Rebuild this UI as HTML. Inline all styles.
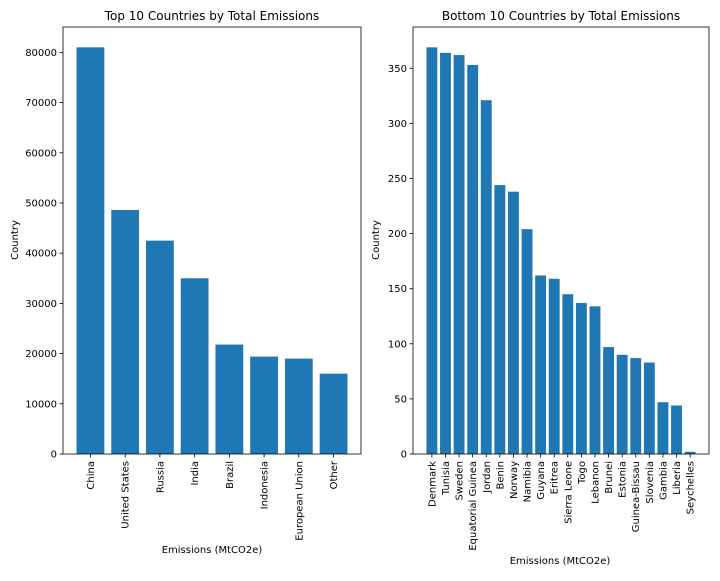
<!DOCTYPE html>
<html><head><meta charset="utf-8"><style>
body{margin:0;background:#fff;width:720px;height:576px;overflow:hidden}
svg text{font-family:"DejaVu Sans","Liberation Sans",sans-serif;fill:#000}
</style></head><body>
<svg id="c" width="720" height="576" xmlns="http://www.w3.org/2000/svg"></svg>
<script>
const topCats=["China","United States","Russia","India","Brazil","Indonesia","European Union","Other"];
const topVals=[81000,48600,42500,35000,21800,19400,19000,16000];
const topTicks=[0,10000,20000,30000,40000,50000,60000,70000,80000];
const botCats=["Denmark","Tunisia","Sweden","Equatorial Guinea","Jordan","Benin","Norway","Namibia","Guyana","Eritrea","Sierra Leone","Togo","Lebanon","Brunei","Estonia","Guinea-Bissau","Slovenia","Gambia","Liberia","Seychelles"];
const botVals=[369,364,362,353,321,244,238,204,162,159,145,137,134,97,90,87,83,47,44,2];
const botTicks=[0,50,100,150,200,250,300,350];
const NS="http://www.w3.org/2000/svg";
const svg=document.getElementById('c');
function mk(t,a,p){const e=document.createElementNS(NS,t);for(const k in a)e.setAttribute(k,a[k]);(p||svg).appendChild(e);return e;}
function panel(L,R,T,B,cats,vals,ticks,title,key){
  const g=mk('g',{});
  
  
  const n=cats.length, lo=-0.4-0.05*(n-0.2), hi=n-1+0.4+0.05*(n-0.2);
  const xs=v=>L+(v-lo)/(hi-lo)*(R-L);
  const ymax=Math.max(...vals)*1.05;
  const ys=v=>B-v/ymax*(B-T);
  cats.forEach((c,i)=>{
    const r=mk('rect',{x:xs(i-0.4),y:ys(vals[i]),width:xs(i+0.4)-xs(i-0.4),height:B-ys(vals[i]),fill:'#1f77b4'},g);
    
    
    const x=xs(i);
    mk('line',{x1:x,x2:x,y1:B,y2:B+3.5,stroke:'#000','stroke-width':0.8},g);
    const t=mk('text',{transform:`translate(${x+3.5},${B+7}) rotate(-90)`,'text-anchor':'end','font-size':10},g);
    t.textContent=c;
    
    
  });
  ticks.forEach(v=>{
    const y=ys(v);
    mk('line',{x1:L-3.5,x2:L,y1:y,y2:y,stroke:'#000','stroke-width':0.8},g);
    const t=mk('text',{x:L-6,y:y+3.5,'text-anchor':'end','font-size':10},g);
    t.textContent=v;
    
    
  });
  const fr=mk('rect',{x:L,y:T,width:R-L,height:B-T,fill:'none',stroke:'#000','stroke-width':0.8},g);
  
  
  const tt=mk('text',{x:(L+R)/2,y:T-7,'text-anchor':'middle','font-size':12},g);
  tt.textContent=title;
  
  
  return {g,L,R,T,B};
}
const p1=panel(63,361,27,454,topCats,topVals,topTicks,"Top 10 Countries by Total Emissions","top");
const p2=panel(413,709,27,454,botCats,botVals,botTicks,"Bottom 10 Countries by Total Emissions","bottom");
function lab(x,y,txt,rot,name){
  const t=mk('text',{transform:`translate(${x},${y})`+(rot?' rotate(-90)':''),'text-anchor':'middle','font-size':10});
  t.textContent=txt;
  
  
}
lab(212,553,"Emissions (MtCO2e)",false,'x-axis-title');
lab(560,564,"Emissions (MtCO2e)",false,'x-axis-title');
lab(18,240,"Country",true,'y-axis-title');
lab(379,240,"Country",true,'y-axis-title');
</script>
</body></html>
